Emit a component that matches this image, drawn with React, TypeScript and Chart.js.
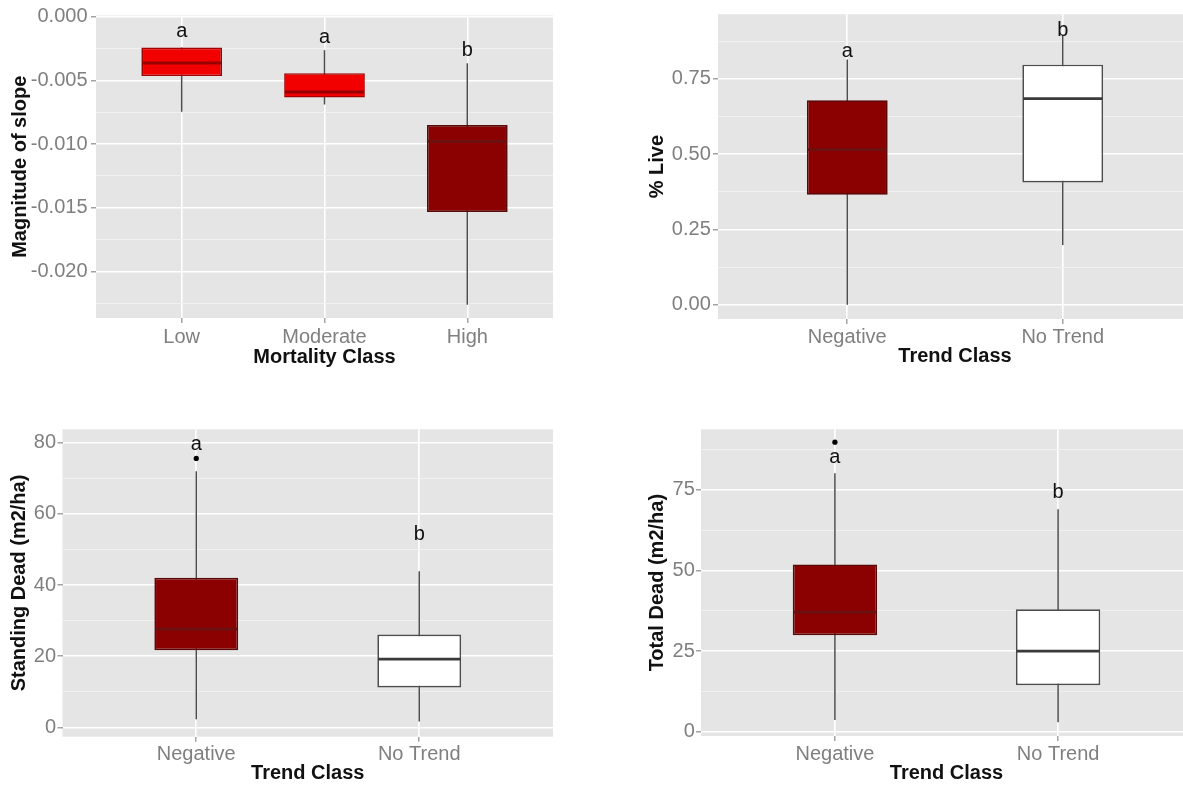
import { useEffect, useRef } from "react";
import { Chart, registerables } from "chart.js";

Chart.register(...registerables);
Chart.defaults.font.family = "'Liberation Sans', Arial, sans-serif";

// ---- Magnitude of slope by mortality class ----
const mortalityClasses = ["Low", "Moderate", "High"];
const slopeWhiskerLow = [-0.00746, -0.00689, -0.02262];
const slopeQ1 = [-0.00466, -0.00635, -0.01534];
const slopeMedian = [-0.00363, -0.00591, -0.00979];
const slopeQ3 = [-0.00241, -0.00443, -0.0085];
const slopeWhiskerHigh = [-0.00241, -0.00262, -0.00365];
const slopeOutliers: number[][] = [[], [], []];
const slopeLetters = ["a", "a", "b"];
const slopeLetterY = [-0.00158, -0.00207, -0.00306];
const slopeTickValues = [0, -0.005, -0.01, -0.015, -0.02];
const slopeTickLabels = ["0.000", "-0.005", "-0.010", "-0.015", "-0.020"];

// ---- Shared trend classes ----
const trendClasses = ["Negative", "No Trend"];
const trendLetters = ["a", "b"];

// ---- % Live by trend class ----
const liveWhiskerLow = [0.0, 0.198];
const liveQ1 = [0.365, 0.406];
const liveMedian = [0.515, 0.684];
const liveQ3 = [0.679, 0.797];
const liveWhiskerHigh = [0.814, 0.896];
const liveOutliers: number[][] = [[], []];
const liveLetterY = [0.8215, 0.893];
const liveTickValues = [0, 0.25, 0.5, 0.75];
const liveTickLabels = ["0.00", "0.25", "0.50", "0.75"];

// ---- Standing dead by trend class ----
const standWhiskerLow = [2.25, 1.6];
const standQ1 = [21.7, 11.2];
const standMedian = [27.6, 19.2];
const standQ3 = [42.06, 26.1];
const standWhiskerHigh = [72.0, 43.9];
const standOutliers: number[][] = [[75.6], []];
const standLetterY = [77.9, 52.8];
const standTickValues = [0, 20, 40, 60, 80];
const standTickLabels = ["0", "20", "40", "60", "80"];

// ---- Total dead by trend class ----
const totalWhiskerLow = [3.6, 2.9];
const totalQ1 = [29.9, 14.4];
const totalMedian = [37.1, 25.0];
const totalQ3 = [51.9, 38.0];
const totalWhiskerHigh = [80.2, 69.0];
const totalOutliers: number[][] = [[89.8], []];
const totalLetterY = [83.5, 72.4];
const totalTickValues = [0, 25, 50, 75];
const totalTickLabels = ["0", "25", "50", "75"];

// ---- Styles ----
const PANEL_BG = "#e5e5e5";
const TICK_GREY = "#7f7f7f";
const WHISKER = "#4d4d4d";
const BRIGHT = { fill: "#f20000", edge: "#a30000", median: "#980000" };
const DARK = { fill: "#8b0000", edge: "#5a0808", median: "#6a1212" };
const WHITE = { fill: "#ffffff", edge: "#4d4d4d", median: "#3a3a3a" };

type BoxStyle = { fill: string; edge: string; median: string };

type Panel = {
  key: string;
  categories: string[];
  whiskerLow: number[];
  q1: number[];
  median: number[];
  q3: number[];
  whiskerHigh: number[];
  outliers: number[][];
  letters: string[];
  letterY: number[];
  tickValues: number[];
  tickLabels: string[];
  yMin: number;
  yMax: number;
  xTitle: string;
  yTitle: string;
  styles: BoxStyle[];
  boxWidth: number;
  // canvas placement and axis geometry
  left: number;
  top: number;
  w: number;
  h: number;
  padTop: number;
  padRight: number;
  yAxisWidth: number;
  xAxisHeight: number;
  yTickPad: number;
  xTickPad: number;
  yTitlePad: number;
  xTitlePad: number;
};

const panels: Panel[] = [
  {
    key: "slope",
    categories: mortalityClasses,
    whiskerLow: slopeWhiskerLow,
    q1: slopeQ1,
    median: slopeMedian,
    q3: slopeQ3,
    whiskerHigh: slopeWhiskerHigh,
    outliers: slopeOutliers,
    letters: slopeLetters,
    letterY: slopeLetterY,
    tickValues: slopeTickValues,
    tickLabels: slopeTickLabels,
    yMin: -0.02366,
    yMax: 0.0001,
    xTitle: "Mortality Class",
    yTitle: "Magnitude of slope",
    styles: [BRIGHT, BRIGHT, DARK],
    boxWidth: 0.565,
    left: 0,
    top: 0,
    w: 560,
    h: 385,
    padTop: 13,
    padRight: 7,
    yAxisWidth: 96,
    xAxisHeight: 67,
    yTickPad: 3.5,
    xTickPad: 2,
    yTitlePad: 8,
    xTitlePad: 16,
  },
  {
    key: "live",
    categories: trendClasses,
    whiskerLow: liveWhiskerLow,
    q1: liveQ1,
    median: liveMedian,
    q3: liveQ3,
    whiskerHigh: liveWhiskerHigh,
    outliers: liveOutliers,
    letters: trendLetters,
    letterY: liveLetterY,
    tickValues: liveTickValues,
    tickLabels: liveTickLabels,
    yMin: -0.0473,
    yMax: 0.9645,
    xTitle: "Trend Class",
    yTitle: "% Live",
    styles: [DARK, WHITE],
    boxWidth: 0.375,
    left: 600,
    top: 0,
    w: 600,
    h: 385,
    padTop: 13,
    padRight: 8,
    yAxisWidth: 118,
    xAxisHeight: 66,
    yTickPad: 2.2,
    xTickPad: 1.5,
    yTitlePad: 45.6,
    xTitlePad: 17,
  },
  {
    key: "standing",
    categories: trendClasses,
    whiskerLow: standWhiskerLow,
    q1: standQ1,
    median: standMedian,
    q3: standQ3,
    whiskerHigh: standWhiskerHigh,
    outliers: standOutliers,
    letters: trendLetters,
    letterY: standLetterY,
    tickValues: standTickValues,
    tickLabels: standTickLabels,
    yMin: -2.64,
    yMax: 83.8,
    xTitle: "Trend Class",
    yTitle: "Standing Dead (m2/ha)",
    styles: [DARK, WHITE],
    boxWidth: 0.376,
    left: 0,
    top: 400,
    w: 560,
    h: 386,
    padTop: 29.3,
    padRight: 7,
    yAxisWidth: 62.5,
    xAxisHeight: 49.3,
    yTickPad: 1.5,
    xTickPad: 0.5,
    yTitlePad: 7.6,
    xTitlePad: 1,
  },
  {
    key: "total",
    categories: trendClasses,
    whiskerLow: totalWhiskerLow,
    q1: totalQ1,
    median: totalMedian,
    q3: totalQ3,
    whiskerHigh: totalWhiskerHigh,
    outliers: totalOutliers,
    letters: trendLetters,
    letterY: totalLetterY,
    tickValues: totalTickValues,
    tickLabels: totalTickLabels,
    yMin: -1.33,
    yMax: 93.8,
    xTitle: "Trend Class",
    yTitle: "Total Dead (m2/ha)",
    styles: [DARK, WHITE],
    boxWidth: 0.378,
    left: 600,
    top: 400,
    w: 600,
    h: 386,
    padTop: 29.3,
    padRight: 8,
    yAxisWidth: 101,
    xAxisHeight: 50,
    yTickPad: 1.2,
    xTickPad: 1.2,
    yTitlePad: 45.6,
    xTitlePad: 1,
  },
];

const tickFont = { size: 20, family: "'Liberation Sans', Arial, sans-serif" };
const titleFont = { size: 20, weight: "bold" as const, family: "'Liberation Sans', Arial, sans-serif" };

// Major ticks carry labels; minor gridlines sit halfway between them.
function buildYTicks(p: Panel) {
  const sorted = [...p.tickValues].sort((a, b) => a - b);
  const step = sorted[1] - sorted[0];
  const minors: number[] = [];
  minors.push(sorted[0] - step / 2);
  for (let i = 0; i < sorted.length - 1; i++) minors.push((sorted[i] + sorted[i + 1]) / 2);
  minors.push(sorted[sorted.length - 1] + step / 2);
  const ticks = [
    ...p.tickValues.map((v, i) => ({ value: v, text: p.tickLabels[i], minor: false })),
    ...minors.filter((v) => v > p.yMin && v < p.yMax).map((v) => ({ value: v, text: "", minor: true })),
  ];
  return ticks.sort((a, b) => a.value - b.value);
}

function boxParts(p: Panel) {
  return {
    id: "boxParts",
    beforeDraw(chart: any) {
      const { ctx, chartArea: a } = chart;
      ctx.save();
      ctx.fillStyle = PANEL_BG;
      ctx.fillRect(a.left, a.top, a.right - a.left, a.bottom - a.top);
      ctx.restore();
    },
    beforeDatasetsDraw(chart: any) {
      const { ctx } = chart;
      const xs = chart.scales.x;
      const ys = chart.scales.y;
      ctx.save();
      ctx.strokeStyle = WHISKER;
      ctx.lineWidth = 1.5;
      p.categories.forEach((_, i) => {
        const x = xs.getPixelForValue(i);
        ctx.beginPath();
        ctx.moveTo(x, ys.getPixelForValue(p.whiskerLow[i]));
        ctx.lineTo(x, ys.getPixelForValue(p.whiskerHigh[i]));
        ctx.stroke();
      });
      ctx.restore();
    },
    afterDatasetsDraw(chart: any) {
      const { ctx } = chart;
      const xs = chart.scales.x;
      const ys = chart.scales.y;
      ctx.save();
      p.categories.forEach((_, i) => {
        const x0 = xs.getPixelForValue(i - p.boxWidth / 2);
        const x1 = xs.getPixelForValue(i + p.boxWidth / 2);
        const ym = ys.getPixelForValue(p.median[i]);
        ctx.strokeStyle = p.styles[i].median;
        ctx.lineWidth = 2.8;
        ctx.beginPath();
        ctx.moveTo(x0 + 0.8, ym);
        ctx.lineTo(x1 - 0.8, ym);
        ctx.stroke();

        const xc = xs.getPixelForValue(i);
        ctx.fillStyle = "#000";
        p.outliers[i].forEach((v) => {
          ctx.beginPath();
          ctx.arc(xc, ys.getPixelForValue(v), 2.6, 0, Math.PI * 2);
          ctx.fill();
        });

        ctx.font = "20px 'Liberation Sans', Arial, sans-serif";
        ctx.textAlign = "center";
        ctx.textBaseline = "alphabetic";
        ctx.fillStyle = "#111";
        ctx.fillText(p.letters[i], xc, ys.getPixelForValue(p.letterY[i]));
      });
      ctx.restore();
    },
  };
}

function buildConfig(p: Panel): any {
  const n = p.categories.length;
  const yTicks = buildYTicks(p);
  return {
    type: "bar",
    data: {
      datasets: [
        {
          data: p.categories.map((_, i) => ({ x: i, y: [p.q1[i], p.q3[i]] })),
          backgroundColor: p.styles.map((s) => s.fill),
          borderColor: p.styles.map((s) => s.edge),
          borderWidth: 1.7,
          borderSkipped: false,
          barPercentage: p.boxWidth,
          categoryPercentage: 1,
        },
      ],
    },
    options: {
      animation: false,
      responsive: false,
      devicePixelRatio: 1,
      layout: { padding: { top: p.padTop, right: p.padRight, left: 0, bottom: 0 } },
      plugins: { legend: { display: false }, tooltip: { enabled: false } },
      scales: {
        x: {
          type: "linear",
          min: -0.6,
          max: n - 0.4,
          offset: false,
          bounds: "data",
          afterBuildTicks: (s: any) => {
            s.ticks = p.categories.map((_, i) => ({ value: i }));
          },
          afterFit: (s: any) => {
            s.height = p.xAxisHeight;
          },
          ticks: {
            autoSkip: false,
            maxRotation: 0,
            minRotation: 0,
            padding: p.xTickPad,
            color: TICK_GREY,
            font: tickFont,
            callback: (_v: any, i: number) => p.categories[i],
          },
          grid: {
            offset: false,
            color: "#ffffff",
            lineWidth: 1.6,
            drawTicks: true,
            tickLength: 5,
            tickColor: "#8c8c8c",
            tickWidth: 1.2,
          },
          border: { display: false },
          title: {
            display: true,
            text: p.xTitle,
            color: "#111",
            font: titleFont,
            padding: { top: 0, bottom: p.xTitlePad },
          },
        },
        y: {
          type: "linear",
          min: p.yMin,
          max: p.yMax,
          bounds: "data",
          afterBuildTicks: (s: any) => {
            s.ticks = yTicks.map((t) => ({ ...t }));
          },
          afterFit: (s: any) => {
            s.width = p.yAxisWidth;
          },
          ticks: {
            autoSkip: false,
            padding: p.yTickPad,
            color: TICK_GREY,
            font: tickFont,
            callback: (_v: any, i: number, ticks: any[]) => ticks[i].text,
          },
          grid: {
            color: (c: any) => (c.tick && c.tick.minor ? "#f2f2f2" : "#ffffff"),
            lineWidth: (c: any) => (c.tick && c.tick.minor ? 0.9 : 1.6),
            drawTicks: true,
            tickLength: 5,
            tickColor: (c: any) => (c.tick && c.tick.minor ? "rgba(0,0,0,0)" : "#8c8c8c"),
            tickWidth: 1.2,
          },
          border: { display: false },
          title: {
            display: true,
            text: p.yTitle,
            color: "#111",
            font: titleFont,
            padding: { top: p.yTitlePad, bottom: 0 },
          },
        },
      },
    },
    plugins: [boxParts(p)],
  };
}

function BoxPanel({ panel }: { panel: Panel }) {
  const ref = useRef<HTMLCanvasElement>(null);
  useEffect(() => {
    if (!ref.current) return;
    const chart = new Chart(ref.current, buildConfig(panel));
    return () => chart.destroy();
  }, [panel]);
  return (
    <canvas
      ref={ref}
      width={panel.w}
      height={panel.h}
      style={{ position: "absolute", left: panel.left, top: panel.top, width: panel.w, height: panel.h }}
    />
  );
}

export default function App() {
  return (
    <div
      style={{
        position: "fixed",
        left: 0,
        top: 0,
        width: 1183,
        height: 786,
        overflow: "hidden",
        background: "#ffffff",
      }}
    >
      {panels.map((p) => (
        <BoxPanel key={p.key} panel={p} />
      ))}
    </div>
  );
}
